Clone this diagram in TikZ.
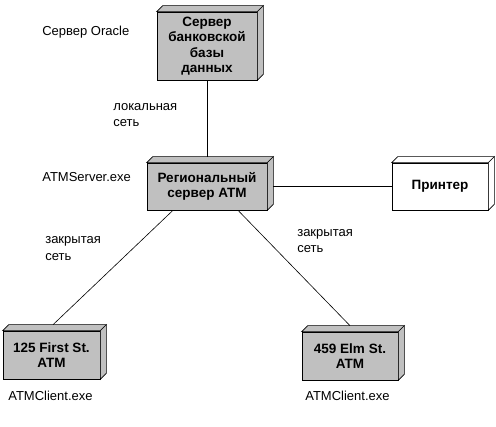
\documentclass[tikz,border=0pt]{standalone}
\usepackage{fontspec}
\setmainfont{Liberation Sans}
\definecolor{boxgray}{RGB}{192,192,192}
\newcommand\boxdepth[2]{%
\filldraw[fill=#2] (#1.north west) -- ++(6pt,6pt) -- ([shift={(6pt,6pt)}]#1.north east) -- (#1.north east) -- cycle;
\filldraw[fill=#2] (#1.north east) -- ++(6pt,6pt) -- ([shift={(6pt,6pt)}]#1.south east) -- (#1.south east) -- cycle;}
\begin{document}
\begin{tikzpicture}[x=1pt,y=-1pt,line width=0.6pt,
  devbox/.style={draw, fill=boxgray, align=center, inner sep=0pt, font=\fontsize{13.5}{15.5}\selectfont\bfseries},
  lbl/.style={align=left, inner sep=0pt, anchor=west, font=\fontsize{13}{16.5}\selectfont}]
\useasboundingbox (0,0) rectangle (496,427);
\node[devbox, minimum width=100pt, minimum height=68pt] (dbsrv) at (207,46) {Сервер\\банковской\\базы\\данных};
\boxdepth{dbsrv}{boxgray}
\node[devbox, minimum width=120pt, minimum height=47pt] (regsrv) at (207,186.5) {Региональный\\сервер ATM};
\boxdepth{regsrv}{boxgray}
\node[devbox, fill=white, minimum width=96pt, minimum height=47pt] (printer) at (440,186.5) {Принтер};
\boxdepth{printer}{white}
\node[devbox, minimum width=97pt, minimum height=48pt] (atmfirst) at (51.5,355) {125 First St.\\ATM};
\boxdepth{atmfirst}{boxgray}
\node[devbox, minimum width=96pt, minimum height=48pt] (atmelm) at (350,356) {459 Elm St.\\ATM};
\boxdepth{atmelm}{boxgray}

\draw (dbsrv.south) -- ([yshift=6pt]regsrv.north);
\draw ([xshift=6pt]regsrv.east) -- (printer.west);
\draw ([xshift=-34pt]regsrv.south) -- ([shift={(1.5pt,6pt)}]atmfirst.north);
\draw ([xshift=31pt]regsrv.south) -- ([yshift=6pt]atmelm.north);

\node[lbl] (oralbl) at (42,32) {Сервер Oracle};
\node[lbl] (lanlbl) at (113,115) {локальная\\сеть};
\node[lbl] (exesrv) at (42,177) {ATMServer.exe};
\node[lbl] (wanleft) at (45,248.5) {закрытая\\сеть};
\node[lbl] (wanright) at (297,241) {закрытая\\сеть};
\node[lbl] (exefirst) at (8,396) {ATMClient.exe};
\node[lbl] (exeelm) at (305,396) {ATMClient.exe};
\end{tikzpicture}
\end{document}
